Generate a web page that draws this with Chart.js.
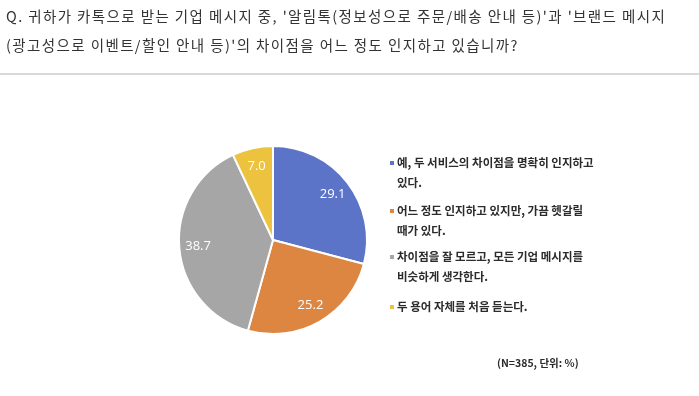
<!DOCTYPE html>
<html>
<head>
<meta charset="utf-8">
<script src="https://cdn.jsdelivr.net/npm/chart.js@4"></script>
<style>
  body { margin: 0; background: #fff; }
  canvas { display: block; }
</style>
</head>
<body>
<canvas id="awareness" width="699" height="396"></canvas>
<script>
// survey question + answers
var titleLines = [
    "Q. 귀하가 카톡으로 받는 기업 메시지 중, '알림톡(정보성으로 주문/배송 안내 등)'과 '브랜드 메시지",
    "(광고성으로 이벤트/할인 안내 등)'의 차이점을 어느 정도 인지하고 있습니까?"
];
var categories = [
    ["예, 두 서비스의 차이점을 명확히 인지하고", "있다."],
    ["어느 정도 인지하고 있지만, 가끔 헷갈릴", "때가 있다."],
    ["차이점을 잘 모르고, 모든 기업 메시지를", "비슷하게 생각한다."],
    ["두 용어 자체를 처음 듣는다."]
];
var values = [29.1, 25.2, 38.7, 7.0];
var colors = ["#5b74c7", "#dc8641", "#a6a6a6", "#ecc23f"];
var footnote = "(N=385, 단위: %)";

var textPlugin = {
    id: "textPlugin",
    beforeDraw: function(chart) {
        var ctx = chart.ctx;
        ctx.save();
        ctx.fillStyle = "#fff";
        ctx.fillRect(0, 0, chart.width, chart.height);
        ctx.restore();
    },
    afterDraw: function(chart) {
        var ctx = chart.ctx;
        ctx.save();
        // title
        ctx.fillStyle = "#333";
        ctx.font = "14.5px 'Noto Sans CJK KR'";
        ctx.letterSpacing = "1.4px";
        ctx.textBaseline = "middle";
        ctx.textAlign = "left";
        titleLines.forEach(function(line, i) {
            ctx.fillText(line, 6, 16 + i * 29);
        });
        ctx.letterSpacing = "0px";
        // separator
        ctx.fillStyle = "#d9d9d9";
        ctx.fillRect(0, 73, chart.width, 2);

        // values on slices
        var meta = chart.getDatasetMeta(0);
        ctx.font = "13px 'Open Sans'";
        ctx.fillStyle = "#fff";
        ctx.textAlign = "center";
        meta.data.forEach(function(arc, i) {
            var p = arc.getProps(["x", "y", "startAngle", "endAngle", "outerRadius"]);
            var a = (p.startAngle + p.endAngle) / 2;
            var r = p.outerRadius * 0.8;
            ctx.fillText(values[i].toFixed(1), p.x + Math.cos(a) * r, p.y + Math.sin(a) * r);
        });

        // legend
        var tops = [163, 211, 257, 307];
        ctx.font = "bold 11.5px 'Noto Sans CJK KR'";
        ctx.textAlign = "left";
        categories.forEach(function(lines, i) {
            ctx.fillStyle = colors[i];
            ctx.fillRect(390, tops[i] - 2, 4, 4);
            ctx.fillStyle = "#2b2b2b";
            lines.forEach(function(t, j) {
                ctx.fillText(t, 397, tops[i] + j * 20);
            });
        });

        // footnote
        ctx.font = "bold 10.5px 'Noto Sans CJK KR'";
        ctx.fillText(footnote, 497, 363);
        ctx.restore();
    }
};

var ctx1 = document.getElementById("awareness").getContext("2d");
var myChart1 = new Chart(ctx1, {
    type: "pie",
    data: {
        labels: categories,
        datasets: [{
            data: values,
            backgroundColor: colors,
            borderColor: "#fff",
            borderWidth: 2
        }]
    },
    options: {
        responsive: false,
        devicePixelRatio: 1,
        animation: false,
        layout: {
            padding: { left: 178, right: 331, top: 145, bottom: 61 }
        },
        plugins: {
            legend: { display: false },
            tooltip: { enabled: false }
        }
    },
    plugins: [textPlugin]
});
</script>
</body>
</html>
